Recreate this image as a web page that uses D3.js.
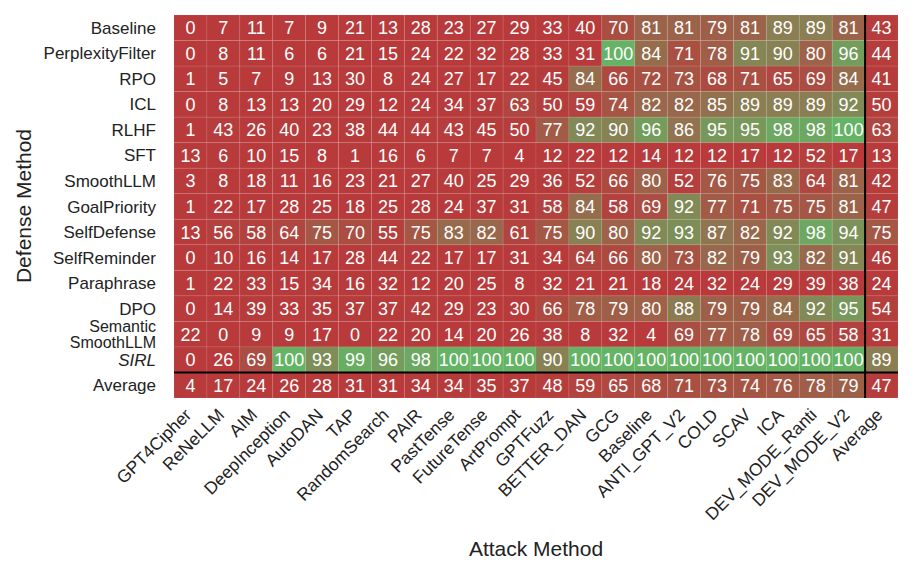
<!DOCTYPE html>
<html>
<head>
<meta charset="utf-8">
<script src="https://cdn.jsdelivr.net/npm/d3@7"></script>
<style>
  body { margin: 0; background: #fff; }
  text { font-family: "Liberation Sans", Arial, sans-serif; }
</style>
</head>
<body>
<div id="chart"></div>
<script>
  // attack methods (columns) and defense methods (rows)
  const attacks = ['GPT4Cipher', 'ReNeLLM', 'AIM', 'DeepInception', 'AutoDAN', 'TAP',
    'RandomSearch', 'PAIR', 'PastTense', 'FutureTense', 'ArtPrompt', 'GPTFuzz',
    'BETTER_DAN', 'GCG', 'Baseline', 'ANTI_GPT_V2', 'COLD', 'SCAV', 'ICA',
    'DEV_MODE_Ranti', 'DEV_MODE_V2', 'Average'];
  const defenses = ['Baseline', 'PerplexityFilter', 'RPO', 'ICL', 'RLHF', 'SFT',
    'SmoothLLM', 'GoalPriority', 'SelfDefense', 'SelfReminder', 'Paraphrase', 'DPO',
    'Semantic SmoothLLM', 'SIRL', 'Average'];

  const baseline = [0, 7, 11, 7, 9, 21, 13, 28, 23, 27, 29, 33, 40, 70, 81, 81, 79, 81, 89, 89, 81, 43];
  const perplexityFilter = [0, 8, 11, 6, 6, 21, 15, 24, 22, 32, 28, 33, 31, 100, 84, 71, 78, 91, 90, 80, 96, 44];
  const rpo = [1, 5, 7, 9, 13, 30, 8, 24, 27, 17, 22, 45, 84, 66, 72, 73, 68, 71, 65, 69, 84, 41];
  const icl = [0, 8, 13, 13, 20, 29, 12, 24, 34, 37, 63, 50, 59, 74, 82, 82, 85, 89, 89, 89, 92, 50];
  const rlhf = [1, 43, 26, 40, 23, 38, 44, 44, 43, 45, 50, 77, 92, 90, 96, 86, 95, 95, 98, 98, 100, 63];
  const sft = [13, 6, 10, 15, 8, 1, 16, 6, 7, 7, 4, 12, 22, 12, 14, 12, 12, 17, 12, 52, 17, 13];
  const smoothLLM = [3, 8, 18, 11, 16, 23, 21, 27, 40, 25, 29, 36, 52, 66, 80, 52, 76, 75, 83, 64, 81, 42];
  const goalPriority = [1, 22, 17, 28, 25, 18, 25, 28, 24, 37, 31, 58, 84, 58, 69, 92, 77, 71, 75, 75, 81, 47];
  const selfDefense = [13, 56, 58, 64, 75, 70, 55, 75, 83, 82, 61, 75, 90, 80, 92, 93, 87, 82, 92, 98, 94, 75];
  const selfReminder = [0, 10, 16, 14, 17, 28, 44, 22, 17, 17, 31, 34, 64, 66, 80, 73, 82, 79, 93, 82, 91, 46];
  const paraphrase = [1, 22, 33, 15, 34, 16, 32, 12, 20, 25, 8, 32, 21, 21, 18, 24, 32, 24, 29, 39, 38, 24];
  const dpo = [0, 14, 39, 33, 35, 37, 37, 42, 29, 23, 30, 66, 78, 79, 80, 88, 79, 79, 84, 92, 95, 54];
  const semanticSmoothLLM = [22, 0, 9, 9, 17, 0, 22, 20, 14, 20, 26, 38, 8, 32, 4, 69, 77, 78, 69, 65, 58, 31];
  const sirl = [0, 26, 69, 100, 93, 99, 96, 98, 100, 100, 100, 90, 100, 100, 100, 100, 100, 100, 100, 100, 100, 89];
  const average = [4, 17, 24, 26, 28, 31, 31, 34, 34, 35, 37, 48, 59, 65, 68, 71, 73, 74, 76, 78, 79, 47];

  const rows = [baseline, perplexityFilter, rpo, icl, rlhf, sft, smoothLLM, goalPriority,
    selfDefense, selfReminder, paraphrase, dpo, semanticSmoothLLM, sirl, average];

(function() {
  'use strict';

  const w = 914;
  const h = 575;
  const gridLeft = 174, gridRight = 898, gridTop = 15, gridBottom = 398;

  const cells = [];
  rows.forEach((vals, r) => {
    vals.forEach((v, c) => {
      cells.push({ row: defenses[r], col: attacks[c], value: v });
    });
  });

  const xScale = d3.scaleBand().domain(attacks).range([gridLeft, gridRight]);
  const yScale = d3.scaleBand().domain(defenses).range([gridTop, gridBottom]);

  // red -> green, most of the range stays red
  const tScale = d3.scalePow().exponent(5).domain([0, 100]).range([0, 1]);
  const interp = d3.interpolateRgb('#b83a3b', '#65b365');
  const color = (v) => interp(tScale(v));

  const svg = d3.select('#chart')
    .append('svg')
    .attr('width', w)
    .attr('height', h);

  svg.selectAll('rect.cell')
    .data(cells)
    .enter()
    .append('rect')
    .attr('class', 'cell')
    .attr('x', (d) => xScale(d.col))
    .attr('y', (d) => yScale(d.row))
    .attr('width', xScale.bandwidth())
    .attr('height', yScale.bandwidth())
    .attr('fill', (d) => color(d.value))
    .attr('stroke', 'rgba(255,255,255,0.08)')
    .attr('stroke-width', 1);

  svg.selectAll('text.val')
    .data(cells)
    .enter()
    .append('text')
    .attr('class', 'val')
    .attr('x', (d) => xScale(d.col) + xScale.bandwidth() / 2)
    .attr('y', (d) => yScale(d.row) + yScale.bandwidth() / 2 + 6.5)
    .attr('text-anchor', 'middle')
    .attr('fill', '#fff')
    .style('font-size', '18px')
    .text((d) => d.value);

  // separators for the average row / column
  const avgX = xScale('Average');
  const avgY = yScale('Average');
  svg.append('line')
    .attr('x1', avgX).attr('x2', avgX)
    .attr('y1', gridTop).attr('y2', gridBottom)
    .attr('stroke', '#000').attr('stroke-width', 2);
  svg.append('line')
    .attr('x1', gridLeft).attr('x2', gridRight)
    .attr('y1', avgY).attr('y2', avgY)
    .attr('stroke', '#000').attr('stroke-width', 2);

  // row labels
  const yLabels = svg.selectAll('text.ylab')
    .data(defenses)
    .enter()
    .append('text')
    .attr('class', 'ylab')
    .attr('text-anchor', 'end')
    .attr('fill', '#222')
    .style('font-size', (d) => d === 'Semantic SmoothLLM' ? '16px' : '17px')
    .style('font-style', (d) => d === 'SIRL' ? 'italic' : 'normal');
  yLabels.each(function(d) {
    const t = d3.select(this);
    const cy = yScale(d) + yScale.bandwidth() / 2;
    if (d === 'Semantic SmoothLLM') {
      t.append('tspan').attr('x', 156).attr('y', cy - 2).text('Semantic');
      t.append('tspan').attr('x', 156).attr('y', cy + 13.5).text('SmoothLLM');
    } else {
      t.attr('x', 156).attr('y', cy + 6).text(d);
    }
  });

  // column labels, rotated
  svg.selectAll('text.xlab')
    .data(attacks)
    .enter()
    .append('text')
    .attr('class', 'xlab')
    .attr('text-anchor', 'end')
    .attr('fill', '#222')
    .style('font-size', '17.5px')
    .attr('transform', (d) => {
      const x = xScale(d) + xScale.bandwidth() / 2 + 2;
      const y = gridBottom + 18;
      return 'translate(' + x + ',' + y + ') rotate(-45)';
    })
    .text((d) => d);

  // axis titles
  svg.append('text')
    .attr('x', 536)
    .attr('y', 556)
    .attr('text-anchor', 'middle')
    .attr('fill', '#222')
    .style('font-size', '21px')
    .text('Attack Method');
  svg.append('text')
    .attr('transform', 'translate(31,206) rotate(-90)')
    .attr('text-anchor', 'middle')
    .attr('fill', '#222')
    .style('font-size', '21px')
    .text('Defense Method');
}());
</script>
</body>
</html>
